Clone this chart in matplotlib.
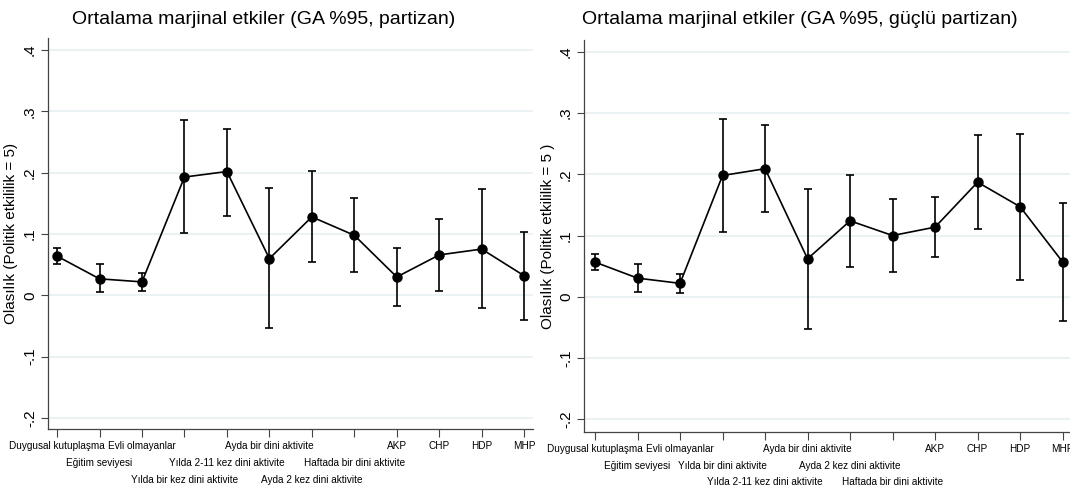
import numpy as np
import matplotlib
matplotlib.use("Agg")
import matplotlib.pyplot as plt

plt.rcParams['font.family'] = ['Liberation Sans', 'DejaVu Sans']

# etiketler (sol ve sag panel)
labels_left = ["Duygusal kutuplaşma", "Eğitim seviyesi", "Evli olmayanlar",
               "Yılda bir kez dini aktivite", "Yılda 2-11 kez dini aktivite",
               "Ayda bir dini aktivite", "Ayda 2 kez dini aktivite",
               "Haftada bir dini aktivite", "AKP", "CHP", "HDP", "MHP"]
labels_right = ["Duygusal kutuplaşma", "Eğitim seviyesi", "Evli olmayanlar",
                "Yılda bir dini aktivite", "Yılda 2-11 kez dini aktivite",
                "Ayda bir dini aktivite", "Ayda 2 kez dini aktivite",
                "Haftada bir dini aktivite", "AKP", "CHP", "HDP", "MHP"]

# partizan
left_margin = [0.064, 0.027, 0.022, 0.193, 0.202, 0.060, 0.128, 0.098, 0.030, 0.066, 0.0755, 0.032]
left_lo = [0.051, 0.005, 0.0075, 0.101, 0.130, -0.053, 0.054, 0.038, -0.017, 0.0075, -0.021, -0.040]
left_hi = [0.078, 0.051, 0.037, 0.286, 0.272, 0.175, 0.203, 0.159, 0.078, 0.124, 0.173, 0.104]

# guclu partizan
right_margin = [0.0566, 0.0305, 0.022, 0.198, 0.209, 0.062, 0.124, 0.100, 0.1137, 0.187, 0.147, 0.057]
right_lo = [0.044, 0.008, 0.0065, 0.105, 0.138, -0.052, 0.049, 0.040, 0.065, 0.111, 0.028, -0.039]
right_hi = [0.070, 0.054, 0.037, 0.290, 0.281, 0.176, 0.198, 0.160, 0.163, 0.264, 0.265, 0.153]

yticks = [-0.2, -0.1, 0, 0.1, 0.2, 0.3, 0.4]
ytick_labels = ["-.2", "-.1", "0", ".1", ".2", ".3", ".4"]

# stata tarzi kademeli etiket satirlari
rows_left = [0, 1, 0, 2, 1, 0, 2, 1, 0, 0, 0, 0]
rows_right = [0, 1, 0, 1, 2, 0, 1, 2, 0, 0, 0, 0]
row_offsets = [12.5, 24.5, 36.5]  # points below the axis

fig = plt.figure(figsize=(10.7, 4.92), dpi=100)
ax1 = fig.add_axes([0.0449, 0.128, 0.4533, 0.795])
ax2 = fig.add_axes([0.5458, 0.1226, 0.4576, 0.7961])


def draw(ax, m, lo, hi, labels, rows, ylabel, xlim, ylim, labx):
    x = np.arange(1, len(m) + 1)
    m = np.array(m)
    err = [m - np.array(lo), np.array(hi) - m]
    ax.errorbar(x, m, yerr=err, fmt='o-', color='black', ms=6.5, lw=1.2,
                elinewidth=1.2, capsize=3, capthick=1.2, zorder=3)
    ax.set_xlim(*xlim)
    ax.set_ylim(*ylim)
    ax.set_yticks(yticks)
    ax.set_yticklabels(ytick_labels, rotation=90, va='center', fontsize=11)
    ax.set_xticks(x)
    ax.set_xticklabels([])
    for xi, t, r in zip(x, labels, rows):
        ax.annotate(t, xy=(xi, 0), xycoords=('data', 'axes fraction'),
                    xytext=(0, -row_offsets[r]), textcoords='offset points',
                    ha='center', va='center', fontsize=7.2, annotation_clip=False)
    ax.tick_params(axis='x', length=6, width=0.8, color='#444444')
    ax.tick_params(axis='y', length=5, width=0.8, color='#444444', pad=3)
    ax.grid(axis='y', color='#e8f0f2', lw=1.2)
    ax.set_axisbelow(True)
    for s in ['top', 'right']:
        ax.spines[s].set_visible(False)
    for s in ['left', 'bottom']:
        ax.spines[s].set_color('#444444')
        ax.spines[s].set_linewidth(0.9)
    ax.set_ylabel(ylabel, fontsize=11)
    ax.yaxis.set_label_coords(labx, 0.5)


draw(ax1, left_margin, left_lo, left_hi, labels_left, rows_left,
     "Olasılık (Politik etkililik = 5)", (0.788, 12.21), (-0.218, 0.42), -0.062)
draw(ax2, right_margin, right_lo, right_hi, labels_right, rows_right,
     "Olasılık (Politik etkililik = 5 )", (0.74, 12.26), (-0.22, 0.419), -0.059)

fig.text(264 / 1070, 1 - 19 / 492, "Ortalama marjinal etkiler (GA %95, partizan)",
         ha='center', va='center', fontsize=14)
fig.text(800 / 1070, 1 - 19 / 492, "Ortalama marjinal etkiler (GA %95, güçlü partizan)",
         ha='center', va='center', fontsize=14)

fig.savefig("out.png", dpi=100)
